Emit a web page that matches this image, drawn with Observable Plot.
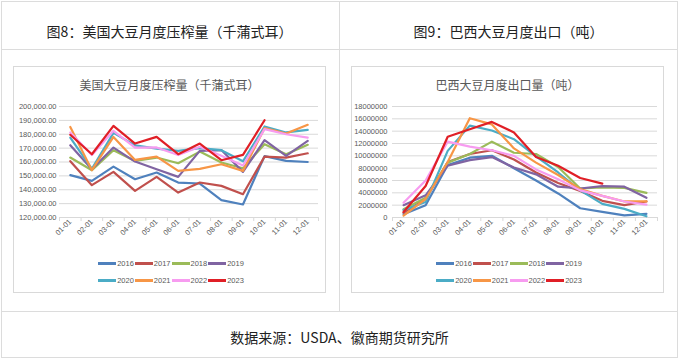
<!DOCTYPE html>
<html><head><meta charset="utf-8">
<script src="https://cdn.jsdelivr.net/npm/d3@7"></script>
<script src="https://cdn.jsdelivr.net/npm/@observablehq/plot@0.6"></script>
<style>
body{margin:0;background:#fff;width:679px;height:360px;position:relative;overflow:hidden;font-family:"Noto Sans CJK SC","Noto Sans",sans-serif;}
.ln{position:absolute;background:#dcdcdc;}
.hdr{position:absolute;top:22px;width:339px;text-align:center;font-size:14px;line-height:18px;color:#222;}
.foot{position:absolute;left:0;width:679px;top:328px;text-align:center;font-size:14px;line-height:18px;color:#222;}
.box{position:absolute;top:66px;width:311px;height:225px;border:1px solid #d9d9d9;}
.ctitle{position:absolute;left:0;right:0;top:10px;text-align:center;font-size:12px;line-height:16px;color:#595959;}
.chart{position:absolute;top:96px;}
.legend{position:absolute;top:255px;width:313px;font-family:"Liberation Sans",sans-serif;font-size:7.5px;color:#595959;}
.row{display:flex;justify-content:center;align-items:center;height:17px;}
.sw{display:inline-block;width:18px;height:2.5px;margin-right:1px;}
.item{display:flex;align-items:center;margin-right:1px;}
</style></head><body>
<div class="ln" style="left:1px;top:1px;width:677px;height:1px"></div>
<div class="ln" style="left:1px;top:357px;width:677px;height:1px"></div>
<div class="ln" style="left:1px;top:1px;width:1px;height:357px"></div>
<div class="ln" style="left:677px;top:1px;width:1px;height:357px"></div>
<div class="ln" style="left:1px;top:49px;width:677px;height:1px"></div>
<div class="ln" style="left:1px;top:311px;width:677px;height:1px"></div>
<div class="ln" style="left:339px;top:1px;width:1px;height:311px"></div>
<div class="hdr" style="left:0">图8：美国大豆月度压榨量（千蒲式耳）</div>
<div class="hdr" style="left:339px">图9：巴西大豆月度出口（吨）</div>
<div class="foot">数据来源：USDA、徽商期货研究所</div>
<div class="box" style="left:13px"><div class="ctitle">美国大豆月度压榨量（千蒲式耳）</div></div>
<div class="box" style="left:351px"><div class="ctitle">巴西大豆月度出口量（吨）</div></div>
<div id="c1" class="chart" style="left:13px"></div>
<div id="c2" class="chart" style="left:351px"></div>
<div id="l1" class="legend" style="left:15px"></div>
<div id="l2" class="legend" style="left:353px"></div>
<script>
const months = ["01-01","02-01","03-01","04-01","05-01","06-01","07-01","08-01","09-01","10-01","11-01","12-01"];
const years = ["2016","2017","2018","2019","2020","2021","2022","2023"];
const colors = ["#4F81BD","#C0504D","#9BBB59","#8064A2","#4BACC6","#F79646","#F79CF0","#E01F26"];

// US soybean monthly crush (thousand bushels)
const us2016 = [150500,146400,156700,147600,152400,145200,144500,132500,129400,164200,160800,160000];
const us2017 = [160600,143300,152900,139200,149300,138000,145200,142800,136800,163900,163200,166300];
const us2018 = [163200,154100,168500,160800,163200,159100,167500,159600,155500,172800,165600,172400];
const us2019 = [172100,154800,170400,160300,154800,149300,168000,168600,152900,175700,164400,175200];
const us2020 = [177600,155000,181000,172000,169700,168000,170000,168500,160500,185600,181300,183200];
const us2021 = [185300,154100,178100,161500,163900,153600,155000,158400,153600,184400,180500,186800];
const us2022 = [181300,165000,182500,170400,170500,165000,171000,164500,157500,183700,180000,177600];
const us2023 = [179600,165600,186000,173300,178100,165600,173300,161300,165100,190100];
const usTicks = [120000,130000,140000,150000,160000,170000,180000,190000,200000];

// Brazil soybean monthly exports (tonnes)
const br2016 = [540000,2000000,8500000,9700000,10000000,8000000,6000000,3900000,1500000,900000,350000,600000];
const br2017 = [800000,3000000,9000000,10300000,10900000,9400000,7300000,5600000,4300000,2700000,2000000,2600000];
const br2018 = [1350000,3200000,8900000,10300000,12300000,10500000,10300000,8200000,4700000,4900000,4800000,4000000];
const br2019 = [2000000,3600000,8400000,9300000,9800000,8100000,7000000,5000000,4700000,5100000,5000000,3200000];
const br2020 = [1200000,2500000,10800000,14900000,14100000,12700000,9900000,7300000,4400000,2200000,1400000,200000];
const br2021 = [300000,3000000,9000000,16100000,15100000,11200000,8900000,6900000,4600000,3500000,2600000,2600000];
const br2022 = [2400000,6000000,12300000,11500000,10900000,10000000,7800000,6200000,4400000,3500000,2600000,2100000];
const br2023 = [900000,5100000,13100000,14300000,15500000,13800000,9800000,8400000,6400000,5500000];
const brTicks = [0,2000000,4000000,6000000,8000000,10000000,12000000,14000000,16000000,18000000];

function makeChart(series, ticks, fmt, ml, mr, pad) {
  const data = [];
  years.forEach((yr, k) => series[k].forEach((v, i) => data.push({year: yr, m: i + 1, v})));
  const yDomain = [ticks[0], ticks[ticks.length - 1]];
  return Plot.plot({
    width: 313, height: 150, marginTop: 10, marginBottom: 29, marginLeft: ml, marginRight: mr,
    style: {fontFamily: '"Liberation Sans",sans-serif', fontSize: "7.5px", color: "#595959", background: "transparent", overflow: "visible"},
    x: {type: "linear", domain: [0.5, months.length + 0.5], label: null},
    y: {domain: yDomain, label: null},
    color: {domain: years, range: colors},
    marks: [
      Plot.gridY(ticks, {stroke: "#d9d9d9", strokeOpacity: 1}),
      Plot.axisY(ticks, {tickFormat: fmt, tickSize: 0, tickPadding: pad, label: null}),
      Plot.axisX(d3.range(months.length + 1).map(i => i + 0.5), {tickFormat: () => "", tickSize: 4, stroke: "#d9d9d9", label: null}),
      Plot.axisX(months.map((_, i) => i + 1), {tickFormat: i => months[i - 1], tickSize: 0, tickPadding: 3, tickRotate: -45, label: null}),
      Plot.ruleY([yDomain[0]], {stroke: "#d9d9d9"}),
      Plot.line(data, {x: "m", y: "v", z: "year", stroke: "year", strokeWidth: 2.2, strokeLinejoin: "round"})
    ]
  });
}

document.getElementById("c1").append(makeChart([us2016,us2017,us2018,us2019,us2020,us2021,us2022,us2023], usTicks, d3.format(",.2f"), 46, 8, 3));
document.getElementById("c2").append(makeChart([br2016,br2017,br2018,br2019,br2020,br2021,br2022,br2023], brTicks, d3.format("d"), 41, 7, 5));

function legend(el) {
  [years.slice(0, 4), years.slice(4)].forEach(rowYears => {
    const row = document.createElement("div");
    row.className = "row";
    rowYears.forEach(yr => {
      const it = document.createElement("span");
      it.className = "item";
      const sw = document.createElement("span");
      sw.className = "sw";
      sw.style.background = colors[years.indexOf(yr)];
      it.append(sw, document.createTextNode(yr));
      row.append(it);
    });
    el.append(row);
  });
}
legend(document.getElementById("l1"));
legend(document.getElementById("l2"));
</script>
</body></html>
